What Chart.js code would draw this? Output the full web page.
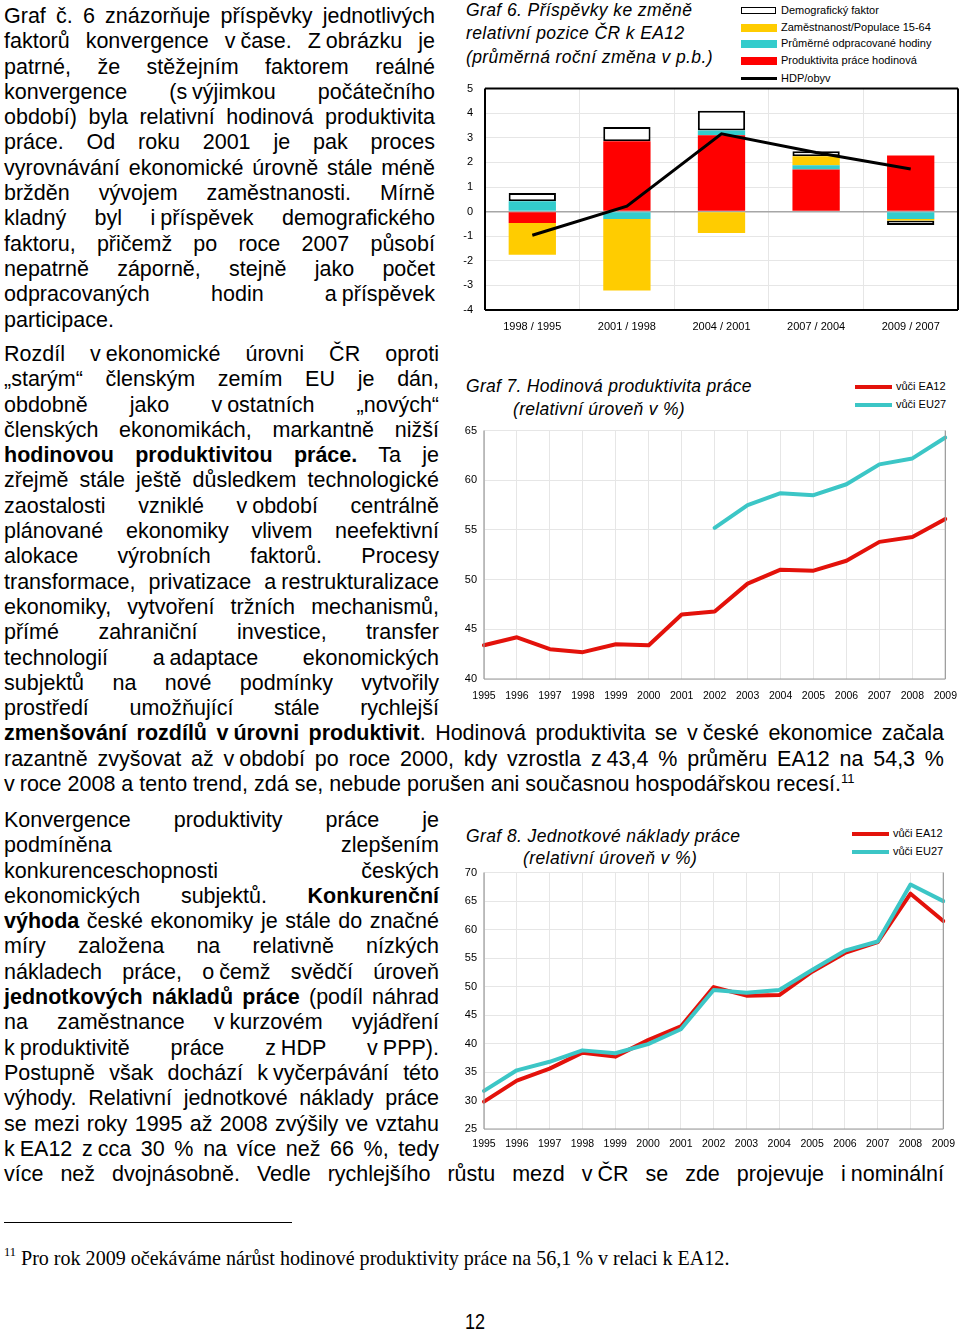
<!DOCTYPE html>
<html lang="cs">
<head>
<meta charset="utf-8">
<title>Graf 6 - 8</title>
<script src="https://cdn.jsdelivr.net/npm/chart.js@4.4.1/dist/chart.umd.min.js"></script>
<style>
  body { margin: 0; width: 960px; height: 1332px; position: relative; overflow: hidden; background: #fff; color: #000;
         font-family: 'Liberation Sans', Arial, sans-serif; }
  .abs { position: absolute; }
  .col { position: absolute; left: 4px; font-size: 21.5px; line-height: 25.3px; }
  .col div { white-space: nowrap; text-align: justify; text-align-last: justify; width: 435px; }
  .col.p1 div { width: 431px; }
  .col div.full { width: 940px; }
  .col div.end { text-align-last: left; }
  .k { display: inline-block; word-spacing: -1px; }
  sup { font-size: 13px; line-height: 0; }
  .title { position: absolute; font-style: italic; font-size: 17.5px; letter-spacing: .4px; white-space: nowrap; line-height: 23.3px; }
  .lg { position: absolute; font-size: 11px; line-height: 13px; white-space: nowrap; }
  .sw { position: absolute; }
  .chart { position: absolute; }
</style>
</head>
<body>

<!-- levý sloupec, odstavec 1 -->
<div class="col p1" style="top:4px">
  <div>Graf č. 6 znázorňuje příspěvky jednotlivých</div>
  <div>faktorů konvergence <span class="k">v čase</span>. <span class="k">Z obrázku</span> je</div>
  <div>patrné, že stěžejním faktorem reálné</div>
  <div>konvergence <span class="k">(s výjimkou</span> počátečního</div>
  <div>období) byla relativní hodinová produktivita</div>
  <div>práce. Od roku 2001 je pak proces</div>
  <div>vyrovnávání ekonomické úrovně stále méně</div>
  <div>bržděn vývojem zaměstnanosti. Mírně</div>
  <div>kladný byl <span class="k">i příspěvek</span> demografického</div>
  <div>faktoru, přičemž po roce 2007 působí</div>
  <div>nepatrně záporně, stejně jako počet</div>
  <div>odpracovaných hodin <span class="k">a příspěvek</span></div>
  <div class="end">participace.</div>
</div>

<!-- odstavec 2 -->
<div class="col" style="top:342px">
  <div>Rozdíl <span class="k">v ekonomické</span> úrovni ČR oproti</div>
  <div>„starým“ členským zemím EU je dán,</div>
  <div>obdobně jako <span class="k">v ostatních</span> „nových“</div>
  <div>členských ekonomikách, markantně nižší</div>
  <div><b>hodinovou produktivitou práce.</b> Ta je</div>
  <div>zřejmě stále ještě důsledkem technologické</div>
  <div>zaostalosti vzniklé <span class="k">v období</span> centrálně</div>
  <div>plánované ekonomiky vlivem neefektivní</div>
  <div>alokace výrobních faktorů. Procesy</div>
  <div>transformace, privatizace <span class="k">a restrukturalizace</span></div>
  <div>ekonomiky, vytvoření tržních mechanismů,</div>
  <div>přímé zahraniční investice, transfer</div>
  <div>technologií <span class="k">a adaptace</span> ekonomických</div>
  <div>subjektů na nové podmínky vytvořily</div>
  <div>prostředí umožňující stále rychlejší</div>
  <div class="full"><b>zmenšování rozdílů <span class="k">v úrovni</span> produktivit</b>. Hodinová produktivita se <span class="k">v české</span> ekonomice začala</div>
  <div class="full">razantně zvyšovat až <span class="k">v období</span> po roce 2000, kdy vzrostla <span class="k">z 43,4</span> % průměru EA12 na 54,3 %</div>
  <div class="full end"><span class="k">v roce</span> 2008 a tento trend, zdá se, nebude porušen ani současnou hospodářskou recesí.<sup>11</sup></div>
</div>

<!-- odstavec 3 -->
<div class="col" style="top:808px">
  <div>Konvergence produktivity práce je</div>
  <div>podmíněna zlepšením</div>
  <div>konkurenceschopnosti českých</div>
  <div>ekonomických subjektů. <b>Konkurenční</b></div>
  <div><b>výhoda</b> české ekonomiky je stále do značné</div>
  <div>míry založena na relativně nízkých</div>
  <div>nákladech práce, <span class="k">o čemž</span> svědčí úroveň</div>
  <div><b>jednotkových nákladů práce</b> (podíl náhrad</div>
  <div>na zaměstnance <span class="k">v kurzovém</span> vyjádření</div>
  <div><span class="k">k produktivitě</span> práce <span class="k">z HDP</span> <span class="k">v PPP).</span></div>
  <div>Postupně však dochází <span class="k">k vyčerpávání</span> této</div>
  <div>výhody. Relativní jednotkové náklady práce</div>
  <div>se mezi roky 1995 až 2008 zvýšily ve vztahu</div>
  <div><span class="k">k EA12</span> <span class="k">z cca</span> 30 % na více než 66 %, tedy</div>
  <div class="full">více než dvojnásobně. Vedle rychlejšího růstu mezd <span class="k">v ČR</span> se zde projevuje <span class="k">i nominální</span></div>
</div>

<!-- poznámka pod čarou -->
<div class="abs" style="left:4px; top:1222px; width:288px; height:1px; background:#000"></div>
<div class="abs" style="left:4px; top:1246px; font-family:'Liberation Serif','Times New Roman',serif; font-size:21px; line-height:24px; white-space:nowrap; transform:scaleX(.955); transform-origin:0 0">
  <sup style="font-size:13px; vertical-align:9px">11</sup> Pro rok 2009 očekáváme nárůst hodinové produktivity práce na 56,1 % v relaci k EA12.
</div>
<div class="abs" style="left:465px; top:1311px; font-size:22px; line-height:22px; transform:scaleX(.82); transform-origin:0 0">12</div>

<!-- Graf 6 -->
<div class="title" style="left:466px; top:-1px">Graf 6. Příspěvky ke změně<br>relativní pozice ČR k EA12<br>(průměrná roční změna v p.b.)</div>
<div class="sw" style="left:741px; top:7px; width:33px; height:5px; border:1.5px solid #000; background:#fff"></div>
<div class="lg" style="left:781px; top:4px">Demografický faktor</div>
<div class="sw" style="left:741px; top:24px; width:36px; height:8px; background:#ffcc00"></div>
<div class="lg" style="left:781px; top:21px">Zaměstnanost/Populace 15-64</div>
<div class="sw" style="left:741px; top:40px; width:36px; height:8px; background:#33cccc"></div>
<div class="lg" style="left:781px; top:37px">Průměrné odpracované hodiny</div>
<div class="sw" style="left:741px; top:57px; width:36px; height:8px; background:#ff0000"></div>
<div class="lg" style="left:781px; top:54px">Produktivita práce hodinová</div>
<div class="sw" style="left:741px; top:77px; width:36px; height:3px; background:#000"></div>
<div class="lg" style="left:781px; top:72px">HDP/obyv</div>
<div class="chart" style="left:460px; top:70px; width:500px; height:269px"><canvas id="g6"></canvas></div>

<!-- Graf 7 -->
<div class="title" style="left:466px; top:375px; letter-spacing:.3px">Graf 7. Hodinová produktivita práce</div>
<div class="title" style="left:513px; top:398px; letter-spacing:.3px">(relativní úroveň v %)</div>
<div class="sw" style="left:855px; top:385px; width:37px; height:4px; background:#e3120b"></div>
<div class="lg" style="left:896px; top:380px">vůči EA12</div>
<div class="sw" style="left:855px; top:403px; width:37px; height:4px; background:#3cc6c6"></div>
<div class="lg" style="left:896px; top:398px">vůči EU27</div>
<div class="chart" style="left:460px; top:417px; width:508px; height:294px"><canvas id="g7"></canvas></div>

<!-- Graf 8 -->
<div class="title" style="left:466px; top:825px">Graf 8. Jednotkové náklady práce</div>
<div class="title" style="left:523px; top:847px">(relativní úroveň v %)</div>
<div class="sw" style="left:852px; top:832px; width:37px; height:4px; background:#e3120b"></div>
<div class="lg" style="left:893px; top:827px">vůči EA12</div>
<div class="sw" style="left:852px; top:850px; width:37px; height:4px; background:#3cc6c6"></div>
<div class="lg" style="left:893px; top:845px">vůči EU27</div>
<div class="chart" style="left:460px; top:859px; width:504px; height:302px"><canvas id="g8"></canvas></div>

<script>
// Graf 6 - prispevky ke zmene relativni pozice CR k EA12 (p.b.)
const periods = ['1998 / 1995', '2001 / 1998', '2004 / 2001', '2007 / 2004', '2009 / 2007'];
const productivity = [-0.46, 2.86, 3.10, 1.71, 2.28];
const hours = [0.42, -0.30, 0.20, 0.17, -0.30];
const employment = [-1.29, -2.91, -0.87, 0.37, -0.06];
const demographic = [0.34, 0.58, 0.80, 0.20, -0.18];
const gdpPerCapita = [-0.96, 0.22, 3.16, 2.40, 1.73];

// Graf 7 a 8 - roky
const years = ['1995', '1996', '1997', '1998', '1999', '2000', '2001', '2002',
               '2003', '2004', '2005', '2006', '2007', '2008', '2009'];

// Graf 7 - hodinova produktivita prace (%)
const prodEA12 = [43.4, 44.2, 43.0, 42.7, 43.5, 43.4, 46.5, 46.8, 49.6, 51.0, 50.9, 51.9, 53.8, 54.3, 56.1];
const prodEU27 = [null, null, null, null, null, null, null, 55.2, 57.5, 58.7, 58.5, 59.6, 61.6, 62.2, 64.3];

// Graf 8 - jednotkove naklady prace (%)
const ulcEA12 = [29.8, 33.5, 35.6, 38.4, 37.7, 40.6, 43.0, 49.9, 48.4, 48.5, 52.6, 55.9, 57.8, 66.3, 61.5];
const ulcEU27 = [31.7, 35.3, 36.8, 38.8, 38.3, 39.9, 42.5, 49.4, 48.9, 49.4, 52.9, 56.3, 57.9, 67.9, 65.0];

Chart.defaults.font.family = "'Liberation Sans', Arial, sans-serif";
Chart.defaults.color = '#000';
Chart.defaults.animation = false;

// frame around the plot area (Excel style)
const framePlugin = {
  id: 'frame',
  afterDatasetsDraw(chart, args, opts) {
    const { ctx, chartArea: a } = chart;
    ctx.save();
    ctx.strokeStyle = opts.color;
    ctx.lineWidth = opts.width;
    ctx.beginPath();
    if (opts.sides.includes('t')) { ctx.moveTo(a.left, a.top); ctx.lineTo(a.right, a.top); }
    if (opts.sides.includes('r')) { ctx.moveTo(a.right, a.top); ctx.lineTo(a.right, a.bottom); }
    if (opts.sides.includes('b')) { ctx.moveTo(a.left, a.bottom); ctx.lineTo(a.right, a.bottom); }
    if (opts.sides.includes('l')) { ctx.moveTo(a.left, a.top); ctx.lineTo(a.left, a.bottom); }
    ctx.stroke();
    ctx.restore();
  }
};

const lightGrid = '#e6e6e6';

new Chart(document.getElementById('g6'), {
  type: 'bar',
  data: {
    labels: periods,
    datasets: [
      { label: 'Produktivita práce hodinová', data: productivity, backgroundColor: '#ff0000', order: 1 },
      { label: 'Průměrné odpracované hodiny', data: hours, backgroundColor: '#33cccc', order: 1 },
      { label: 'Zaměstnanost/Populace 15-64', data: employment, backgroundColor: '#ffcc00', order: 1 },
      { label: 'Demografický faktor', data: demographic, backgroundColor: '#ffffff',
        borderColor: '#000', borderWidth: 2, borderSkipped: false, order: 1 },
      { type: 'line', label: 'HDP/obyv', data: gdpPerCapita, stack: 'hdp', borderColor: '#000',
        borderWidth: 3, pointRadius: 0, tension: 0, order: 0 }
    ]
  },
  options: {
    responsive: true,
    maintainAspectRatio: false,
    layout: { padding: { top: 0, right: 2, left: 0, bottom: 0 } },
    categoryPercentage: 1,
    barPercentage: 0.5,
    plugins: {
      legend: { display: false },
      tooltip: { enabled: false },
      frame: { color: '#000', width: 2, sides: 'trbl' }
    },
    scales: {
      x: {
        stacked: true,
        grid: { color: lightGrid, drawTicks: false, offset: true },
        border: { display: false },
        ticks: { padding: 10, font: { size: 11 }, maxRotation: 0, autoSkip: false },
        afterFit: s => { s.height = 29; }
      },
      y: {
        stacked: true,
        min: -4, max: 5,
        grid: {
          color: c => c.tick.value === 0 ? '#a6a6a6' : lightGrid,
          lineWidth: c => c.tick.value === 0 ? 1.5 : 1,
          drawTicks: false
        },
        border: { display: false },
        ticks: { stepSize: 1, padding: 12, font: { size: 11 } },
        afterFit: s => { s.width = 25; }
      }
    }
  },
  plugins: [framePlugin]
});

function lineChart(id, eaData, euData, yMin, yMax, tickPad) {
  return new Chart(document.getElementById(id), {
    type: 'line',
    data: {
      labels: years,
      datasets: [
        { label: 'vůči EA12', data: eaData, borderColor: '#e3120b', borderWidth: 4, pointRadius: 0,
          tension: 0, borderJoinStyle: 'round', borderCapStyle: 'round', order: 2 },
        { label: 'vůči EU27', data: euData, borderColor: '#3cc6c6', borderWidth: 4, pointRadius: 0,
          tension: 0, borderJoinStyle: 'round', borderCapStyle: 'round', order: 1 }
      ]
    },
    options: {
      responsive: true,
      maintainAspectRatio: false,
      layout: { padding: 0 },
      plugins: {
        legend: { display: false },
        tooltip: { enabled: false },
        frame: { color: '#9a9a9a', width: 1.2, sides: 'lbr' }
      },
      scales: {
        x: {
          grid: { color: lightGrid, drawTicks: false },
          border: { display: false },
          ticks: { padding: tickPad, font: { size: 10.5 }, maxRotation: 0, autoSkip: false },
          afterFit: s => { s.height = 32; }
        },
        y: {
          min: yMin, max: yMax,
          grid: { color: lightGrid, drawTicks: false },
          border: { display: false },
          ticks: { stepSize: 5, padding: 7, font: { size: 11 } },
          afterFit: s => { s.width = 24; }
        }
      }
    },
    plugins: [framePlugin]
  });
}

lineChart('g7', prodEA12, prodEU27, 40, 65, 11);
lineChart('g8', ulcEA12, ulcEU27, 25, 70, 9);
</script>
</body>
</html>
